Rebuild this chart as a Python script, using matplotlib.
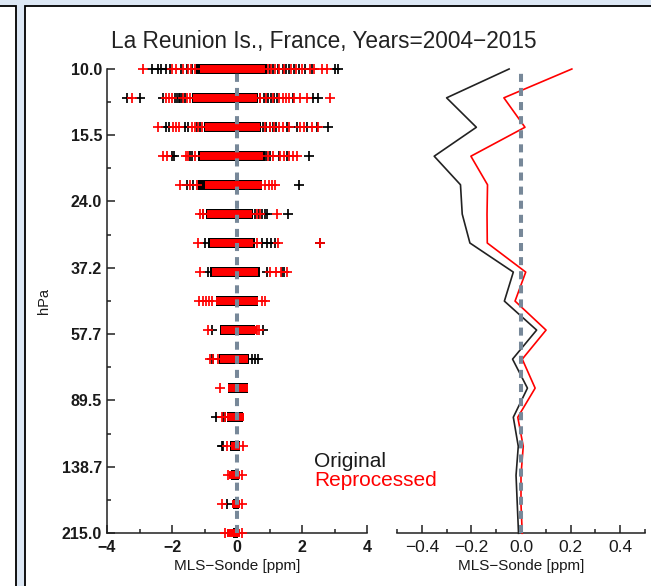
import matplotlib
matplotlib.use("Agg")
import matplotlib.pyplot as plt
from matplotlib.patches import Rectangle
from matplotlib.ticker import NullFormatter
import numpy as np

plt.rcParams['font.family'] = ['Liberation Sans', 'DejaVu Sans']

# MLS pressure levels (hPa), top to bottom
levels = [10.0, 12.1, 14.7, 17.8, 21.5, 26.1, 31.6, 38.3, 46.4,
          56.2, 68.1, 82.5, 100.0, 121.2, 146.8, 177.8, 215.4]

# dense part of the MLS-Sonde scatter at each level (ppm)
orig_lo = [-1.25, -1.40, -1.02, -1.20, -1.19, -0.96, -0.90, -0.84, -0.66,
           -0.52, -0.55, -0.27, -0.30, -0.22, -0.20, -0.12, -0.12]
orig_hi = [0.92, 0.66, 0.75, 0.85, 0.78, 0.48, 0.55, 0.70, 0.66,
           0.55, 0.36, 0.33, 0.18, 0.10, 0.05, 0.06, 0.04]
repr_lo = [-1.15, -1.34, -0.98, -1.14, -0.98, -0.93, -0.83, -0.78, -0.66,
           -0.50, -0.52, -0.27, -0.30, -0.20, -0.24, -0.15, -0.30]
repr_hi = [0.86, 0.61, 0.71, 0.81, 0.76, 0.45, 0.50, 0.66, 0.66,
           0.60, 0.33, 0.35, 0.20, 0.10, 0.08, 0.08, 0.09]

# single differences outside the dense part
orig_out = [
    [-2.62, -2.42, -2.35, -2.18, -2.05, -1.72, -1.55, -1.38, 1.0, 1.12, 1.25, 1.4,
     1.52, 1.6, 1.75, 1.9, 2.1, 2.32, 3.02, 3.12],
    [-3.39, -3.0, -2.27, -1.9, -1.85, -1.8, -1.75, -1.7, -1.6, 0.72, 0.82, 0.95,
     1.05, 1.15, 1.22, 1.72, 2.35, 2.5],
    [-2.2, -2.1, -1.6, -1.5, -1.24, -1.14, 0.8, 0.9, 1.0, 1.1, 1.2, 1.53, 1.84,
     2.14, 2.45, 2.81],
    [-2.0, -1.94, -1.45, -1.38, 0.9, 1.02, 1.3, 1.55, 2.2],
    [-1.55, -1.34, 1.92],
    [-1.04, 0.55, 0.68, 0.78, 0.86, 0.91, 1.58],
    [-0.98, 0.2, 0.32, 0.45, 0.76, 0.91, 1.06, 1.17, 2.55],
    [-0.88, 0.91, 1.37, 1.45],
    [],
    [-0.78, 0.81],
    [-0.78, -0.73, 0.45, 0.56, 0.66],
    [],
    [-0.65, -0.42, -0.38],
    [-0.47, -0.42],
    [],
    [-0.3],
    [],
]
repr_out = [
    [-2.88, -2.0, -1.88, -1.65, -1.5, -1.42, -1.3, 0.95, 1.05, 1.18, 1.3, 1.45,
     1.65, 1.8, 2.0, 2.25, 2.36, 2.6, 2.78],
    [-3.24, -2.2, -2.1, -2.0, -1.65, -1.55, -1.45, 0.7, 0.9, 1.1, 1.3, 1.4, 1.5,
     1.6, 1.75, 1.94, 2.14, 2.86],
    [-2.42, -1.98, -1.88, -1.78, -1.4, -1.3, -1.2, -1.08, 0.85, 1.0, 1.15, 1.3,
     1.42, 1.6, 1.95, 2.05, 2.3, 2.5],
    [-2.27, -2.15, -1.58, -1.5, -1.3, 0.95, 1.1, 1.32, 1.45, 1.6, 1.72, 1.84],
    [-1.75, -1.45, -1.24, 0.85, 0.97, 1.08, 1.17],
    [-1.14, -1.06, 0.6, 0.72, 1.22],
    [-1.19, 0.62, 1.27, 2.55],
    [-1.14, 1.02, 1.2, 1.35, 1.53],
    [-1.16, -1.05, -0.95, -0.85, -0.76, 0.76, 0.86],
    [-0.88, 0.6, 0.68],
    [-0.83, -0.75, -0.6],
    [-0.52],
    [-0.47, -0.36],
    [-0.32, 0.17],
    [-0.28, 0.16],
    [-0.47, 0.16],
    [-0.36, 0.14],
]

# mean MLS-Sonde difference per level (ppm)
orig_mean = [-0.048, -0.30, -0.18, -0.35, -0.244, -0.237, -0.206, -0.031, -0.067,
             0.063, -0.034, 0.026, -0.031, -0.011, -0.02, -0.015, -0.01]
repr_mean = [0.205, -0.069, 0.016, -0.202, -0.135, -0.137, -0.136, 0.019, -0.024,
             0.101, 0.005, 0.057, -0.013, 0.009, 0.0, 0.0, 0.005]

p_ticks = [10.0, 15.5, 24.0, 37.2, 57.7, 89.5, 138.7, 215.0]
xl_ticks = [-4, -2, 0, 2, 4]
xl_minor = [-3, -1, 1, 3]
xr_ticks = [-0.4, -0.2, 0.0, 0.2, 0.4]
xr_minor = [-0.5, -0.3, -0.1, 0.1, 0.3, 0.5]

W, H = 651, 586
txt = '#1a1a1a'
fig = plt.figure(figsize=(W / 100, H / 100), dpi=100)
fig.patch.set_facecolor('#dde8f5')


def box(x0, y0, x1, y1):
    # pixel box (from top-left) -> figure fraction
    return [x0 / W, 1 - y1 / H, (x1 - x0) / W, (y1 - y0) / H]


# window frames of the screenshot
for x0, x1 in [(-6, 15.8), (25, 660)]:
    b = box(x0, 6.2, x1, 600)
    fig.add_artist(Rectangle((b[0], b[1]), b[2], b[3], transform=fig.transFigure,
                             fc='white', ec='black', lw=1.3, zorder=-5))

axL = fig.add_axes(box(107, 69, 367, 533))
axR = fig.add_axes(box(397, 69, 645, 533))

for ax in (axL, axR):
    ax.set_facecolor('none')
    ax.set_yscale('log')
    ax.set_ylim(215.0, 10.0)
    for s in ('top', 'right'):
        ax.spines[s].set_visible(False)
    for s in ('left', 'bottom'):
        ax.spines[s].set_linewidth(1.1)
        ax.spines[s].set_color('#202020')
    ax.tick_params(which='both', direction='in', width=1.1, color='#202020',
                   labelsize=11.5, labelcolor=txt, pad=5)
    ax.tick_params(which='major', length=5.8)
    ax.tick_params(which='minor', length=3.2)
    ax.axvline(0, color='#778899', lw=2.9, dashes=(2.0, 1.5), zorder=6)
    ax.set_xlabel('MLS\u2212Sonde [ppm]', fontsize=11, color=txt, labelpad=3)

# left panel: individual differences
axL.set_xlim(-4, 4)
axL.set_xticks(xl_ticks)
axL.set_xticklabels([f'{v:d}'.replace('-', '\u2212') for v in xl_ticks],
                    fontweight='bold')
axL.set_xticks(xl_minor, minor=True)
axL.set_yticks(p_ticks)
axL.set_yticklabels([f'{p:.1f}' for p in p_ticks], fontweight='bold')
axL.set_yticks(np.sqrt(np.array(p_ticks[:-1]) * np.array(p_ticks[1:])), minor=True)
axL.yaxis.set_minor_formatter(NullFormatter())
axL.tick_params(axis='y', pad=3.5)
axL.set_ylabel('hPa', fontsize=10.5, color=txt, labelpad=8)

for i, p in enumerate(levels):
    axL.plot([orig_lo[i], orig_hi[i]], [p, p], color='black', lw=7.2,
             solid_capstyle='butt', zorder=2, clip_on=False)
    axL.plot([repr_lo[i], repr_hi[i]], [p, p], color='red', lw=5.7,
             solid_capstyle='butt', zorder=3, clip_on=False)
    axL.plot(orig_out[i], [p] * len(orig_out[i]), '+', color='black',
             ms=6.5, mew=1.25, zorder=2.5, clip_on=False)
    axL.plot(repr_out[i], [p] * len(repr_out[i]), '+', color='red',
             ms=6.5, mew=1.25, zorder=3, clip_on=False)

# right panel: mean differences
axR.spines['left'].set_visible(False)
axR.set_xlim(-0.5, 0.5)
axR.set_xticks(xr_ticks)
axR.set_xticklabels([f'{v:.1f}'.replace('-', '\u2212') for v in xr_ticks])
axR.tick_params(axis='x', labelsize=12.5)
axR.set_xticks(xr_minor, minor=True)
axR.set_yticks([])
axR.set_yticks([], minor=True)
axR.plot(orig_mean, levels, color='#222222', lw=1.2, zorder=3, clip_on=False)
axR.plot(repr_mean, levels, color='red', lw=1.2, zorder=3, clip_on=False)

fig.text(323.5 / W, 1 - 48 / H, 'La Reunion Is., France, Years=2004\u22122015',
         ha='center', va='baseline', fontsize=16.3, color='#222222')
fig.text(314 / W, 1 - 466.7 / H, 'Original', ha='left', va='baseline',
         fontsize=15, color=txt)
fig.text(314 / W, 1 - 485.7 / H, 'Reprocessed', ha='left', va='baseline',
         fontsize=15, color='red')

fig.savefig('out.png', dpi=100, facecolor=fig.get_facecolor())
